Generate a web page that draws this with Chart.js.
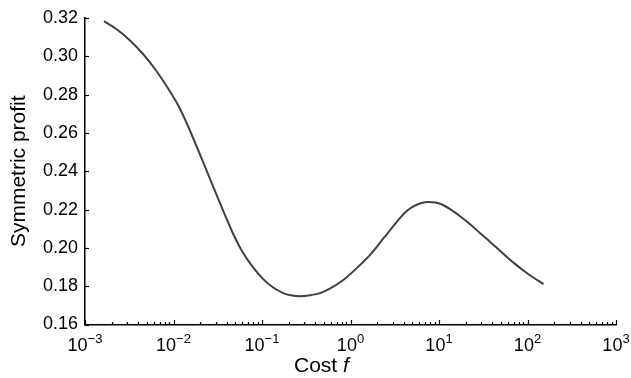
<!DOCTYPE html>
<html>
<head>
<meta charset="utf-8">
<script src="https://cdn.jsdelivr.net/npm/chart.js@4/dist/chart.umd.min.js"></script>
<style>
  html, body { margin: 0; padding: 0; background: #fff; }
  canvas { display: block; }
</style>
</head>
<body>
<canvas id="c" width="631" height="378"></canvas>
<script>
// ---- data ----
const costs  = [0.001641, 0.002301, 0.003228, 0.004529, 0.006355, 0.008917, 0.01188, 0.01541, 0.02000, 0.02734, 0.03736, 0.04847, 0.06126, 0.07746, 0.1032, 0.1338, 0.1737, 0.2196, 0.2704, 0.3509, 0.4553, 0.5908, 0.8291, 1.194, 1.675, 2.350, 3.050, 3.659, 4.390, 5.268, 6.322, 7.588, 9.106, 10.93, 13.46, 17.46, 22.66, 29.40, 38.14, 49.50, 69.43, 100, 151.7];
const profit = [0.3184, 0.3140, 0.3083, 0.3012, 0.2926, 0.2824, 0.2725, 0.2610, 0.2485, 0.2333, 0.2182, 0.2062, 0.1973, 0.1905, 0.1837, 0.1793, 0.1764, 0.1751, 0.1748, 0.1753, 0.1764, 0.1788, 0.1832, 0.1897, 0.1965, 0.2049, 0.2114, 0.2158, 0.2195, 0.2219, 0.2234, 0.2239, 0.2237, 0.2225, 0.2201, 0.2164, 0.2122, 0.2075, 0.2030, 0.1983, 0.1923, 0.1866, 0.1811];
const yTicks = [0.16, 0.18, 0.20, 0.22, 0.24, 0.26, 0.28, 0.30, 0.32];
const xDecades = [-3, -2, -1, 0, 1, 2, 3];
const xTitle = ["Cost ", "f"];
const yTitle = "Symmetric profit";

const FONT = '"Liberation Sans", Arial, Helvetica, sans-serif';

const points = costs.map((c, i) => ({ x: c, y: profit[i] }));

const axisDecor = {
  id: 'axisDecor',
  afterDraw(chart) {
    const ctx = chart.ctx;
    const xs = chart.scales.x, ys = chart.scales.y;
    const left = chart.chartArea.left, bottom = chart.chartArea.bottom;
    ctx.save();
    ctx.strokeStyle = '#000';
    ctx.lineWidth = 1.2;
    // y ticks (inward)
    yTicks.forEach(v => {
      const py = Math.round(ys.getPixelForValue(v)) + 0.5;
      ctx.beginPath(); ctx.moveTo(left, py); ctx.lineTo(left + 4, py); ctx.stroke();
    });
    // x ticks (inward): majors and minors
    xDecades.forEach((d, i) => {
      const base = Math.pow(10, d);
      const px = Math.round(xs.getPixelForValue(base)) + 0.5;
      ctx.beginPath(); ctx.moveTo(px, bottom); ctx.lineTo(px, bottom - 4.5); ctx.stroke();
      if (i < xDecades.length - 1) {
        for (let k = 2; k <= 9; k++) {
          const mx = Math.round(xs.getPixelForValue(k * base)) + 0.5;
          ctx.beginPath(); ctx.moveTo(mx, bottom); ctx.lineTo(mx, bottom - 2.5); ctx.stroke();
        }
      }
    });
    // x tick labels 10^d
    ctx.fillStyle = '#000';
    ctx.textBaseline = 'alphabetic';
    xDecades.forEach(d => {
      const px = xs.getPixelForValue(Math.pow(10, d));
      const baseTxt = '10';
      const supTxt = d < 0 ? '\u2212' + Math.abs(d) : String(d);
      ctx.font = '18px ' + FONT;
      const wb = ctx.measureText(baseTxt).width;
      ctx.font = '13px ' + FONT;
      const ws = ctx.measureText(supTxt).width;
      const x0 = px - (wb + ws) / 2;
      ctx.font = '18px ' + FONT;
      ctx.textAlign = 'left';
      ctx.fillText(baseTxt, x0, bottom + 26);
      ctx.font = '13px ' + FONT;
      ctx.fillText(supTxt, x0 + wb, bottom + 18);
    });
    // x title
    ctx.font = '21px ' + FONT;
    const w1 = ctx.measureText(xTitle[0]).width;
    ctx.fillText(xTitle[0], 294, 372);
    ctx.font = 'italic 21px ' + FONT;
    ctx.fillText(xTitle[1], 294 + w1, 372);
    // y title
    ctx.save();
    ctx.translate(25, (chart.chartArea.top + chart.chartArea.bottom) / 2);
    ctx.rotate(-Math.PI / 2);
    ctx.textAlign = 'center';
    ctx.font = '21px ' + FONT;
    ctx.fillText(yTitle, 0, 0);
    ctx.restore();
    ctx.restore();
  }
};

new Chart(document.getElementById('c'), {
  type: 'line',
  data: {
    datasets: [{
      data: points,
      borderColor: '#404040',
      borderWidth: 2,
      pointRadius: 0,
      fill: false,
      cubicInterpolationMode: 'monotone'
    }]
  },
  options: {
    responsive: false,
    animation: false,
    devicePixelRatio: 1,
    layout: { padding: { left: 0, right: 15, top: 18, bottom: 0 } },
    plugins: { legend: { display: false }, tooltip: { enabled: false } },
    scales: {
      x: {
        type: 'logarithmic',
        min: 0.001, max: 1000,
        grid: { display: false, drawTicks: false },
        border: { display: true, color: '#000', width: 1.5 },
        ticks: { display: false },
        afterFit(s) { s.height = 53.5; }
      },
      y: {
        min: 0.16, max: 0.32,
        afterBuildTicks(s) { s.ticks = yTicks.map(v => ({ value: v })); },
        grid: { display: false, drawTicks: false },
        border: { display: true, color: '#000', width: 1.5 },
        ticks: {
          color: '#000',
          padding: 7,
          font: { family: FONT, size: 18 },
          callback: v => Number(v).toFixed(2)
        },
        afterFit(s) { s.width = 85; }
      }
    }
  },
  plugins: [axisDecor]
});
</script>
</body>
</html>
